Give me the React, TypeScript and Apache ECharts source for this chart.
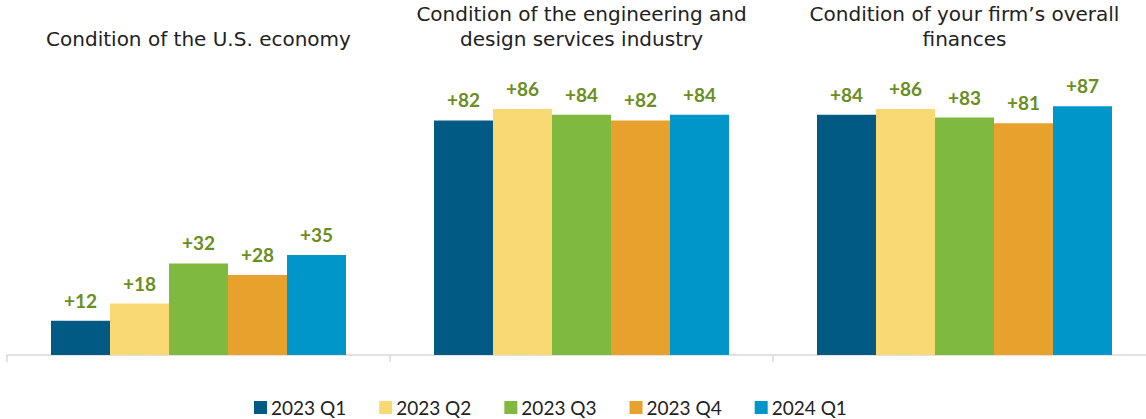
import React, { useEffect, useRef } from "react";
import * as echarts from "echarts";

const categories = [
  "Condition of the U.S. economy",
  "Condition of the engineering and\ndesign services industry",
  "Condition of your firm’s overall\nfinances",
];
const seriesNames = ["2023 Q1", "2023 Q2", "2023 Q3", "2023 Q4", "2024 Q1"];
const q1_2023 = [12, 82, 84];
const q2_2023 = [18, 86, 86];
const q3_2023 = [32, 84, 83];
const q4_2023 = [28, 82, 81];
const q1_2024 = [35, 84, 87];
const colors = ["#005A84", "#F9D973", "#80B940", "#E9A12D", "#0096C9"];

export default function App() {
  const ref = useRef<HTMLDivElement>(null);
  useEffect(() => {
    if (!ref.current) return;
    const chart = echarts.init(ref.current, null, { renderer: "svg" });
    const values = [q1_2023, q2_2023, q3_2023, q4_2023, q1_2024];
    const font = "Lato, 'DejaVu Sans', sans-serif";
    const titleFont = "'DejaVu Sans', sans-serif";
    chart.setOption({
      animation: false,
      legend: {
        left: 249,
        top: 393,
        itemWidth: 13,
        itemHeight: 13,
        itemGap: 33,
        icon: "rect",
        textStyle: { fontFamily: font, fontSize: 19, color: "#222", padding: [0, 0, 0, -1] },
        data: seriesNames,
      },
      grid: { left: 7, top: 69, width: 1149, height: 286 },
      xAxis: [
        {
          type: "category",
          data: categories,
          position: "bottom",
          axisLine: { lineStyle: { color: "#D9D9D9", width: 1.5 } },
          axisTick: { show: true, length: 7, lineStyle: { color: "#D9D9D9", width: 1.5 } },
          axisLabel: { show: false },
        },
        {
          type: "category",
          data: categories,
          position: "top",
          axisLine: { show: false },
          axisTick: { show: false },
          axisLabel: {
            interval: 0,
            hideOverlap: false,
            margin: 18,
            fontFamily: titleFont,
            fontSize: 20,
            color: "#222",
            lineHeight: 25,
          },
        },
      ],
      yAxis: { type: "value", min: 0, max: 100, show: false, splitLine: { show: false } },
      series: values.map((v, i) => ({
        name: seriesNames[i],
        type: "bar",
        data: v,
        xAxisIndex: 0,
        barWidth: 59,
        barGap: "0%",
        itemStyle: { color: colors[i] },
        label: {
          show: true,
          position: "top",
          distance: 11,
          formatter: (p: any) => "+" + p.value,
          fontFamily: font,
          fontWeight: "bold",
          fontSize: 19,
          color: "#6A8E22",
        },
      })),
    });
    return () => chart.dispose();
  }, []);
  return (
    <div
      style={{ position: "fixed", left: 0, top: 0, width: 1146, height: 419, overflow: "hidden", background: "#fff" }}
    >
      <div ref={ref} style={{ width: 1160, height: 419 }} />
    </div>
  );
}
